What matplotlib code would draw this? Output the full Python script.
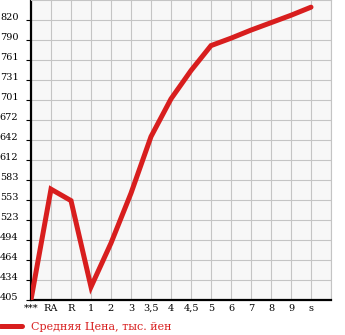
import numpy as np
import matplotlib
matplotlib.use('Agg')
import matplotlib.pyplot as plt

# категории (ось X) и средняя цена
categories = ['***', 'RA', 'R', '1', '2', '3', '3,5', '4', '4,5', '5', '6', '7', '8', '9', 's']
prices = [405, 569, 552, 424, 489, 563, 647, 703, 745, 782, 793, 805, 816, 827, 839]
ytick_labels = ['405', '434', '464', '494', '523', '553', '583', '612', '642',
                '672', '701', '731', '761', '790', '820']
legend_label = 'Средняя Цена, тыс. йен'

red = '#d81e1e'
y0, dy = 404.6, 29.67

fig = plt.figure(figsize=(3.45, 3.35), dpi=100)
ax = fig.add_axes([31 / 345, 35 / 335, 300 / 345, 1 - 35 / 335])
ax.set_facecolor('#f7f7f7')

x = np.arange(len(categories))
line, = ax.plot(x, prices, color=red, lw=3.6, solid_capstyle='round',
                solid_joinstyle='miter', label=legend_label, zorder=3)

ax.set_xlim(0, len(categories))
ax.set_ylim(y0, y0 + dy * len(ytick_labels))
ax.set_xticks(np.arange(len(categories) + 1))
ax.set_xticklabels(categories + [''], family='DejaVu Serif', fontsize=7)
ax.set_yticks(y0 + dy * np.arange(len(ytick_labels)))
ax.set_yticklabels(ytick_labels, family='DejaVu Serif', fontsize=7)
for lab in ax.get_yticklabels():
    lab.set_va('baseline')

ax.grid(True, color='#c4c4c4', lw=0.8)
ax.set_axisbelow(True)
ax.tick_params(axis='x', length=0, pad=3)
ax.tick_params(axis='y', length=3.5, width=0.8, pad=5.5, direction='out')

for side in ('top', 'right'):
    ax.spines[side].set_color('#c4c4c4')
    ax.spines[side].set_linewidth(0.8)
ax.spines['left'].set_linewidth(1.6)
ax.spines['bottom'].set_linewidth(1.6)

fig.legend(handles=[line], loc='center left', bbox_to_anchor=(0, 8 / 335),
           frameon=False, borderpad=0, borderaxespad=0, handlelength=2.0,
           handletextpad=0.75, labelcolor=red,
           prop={'family': 'DejaVu Serif', 'size': 8})

fig.savefig('out.png', dpi=100)
